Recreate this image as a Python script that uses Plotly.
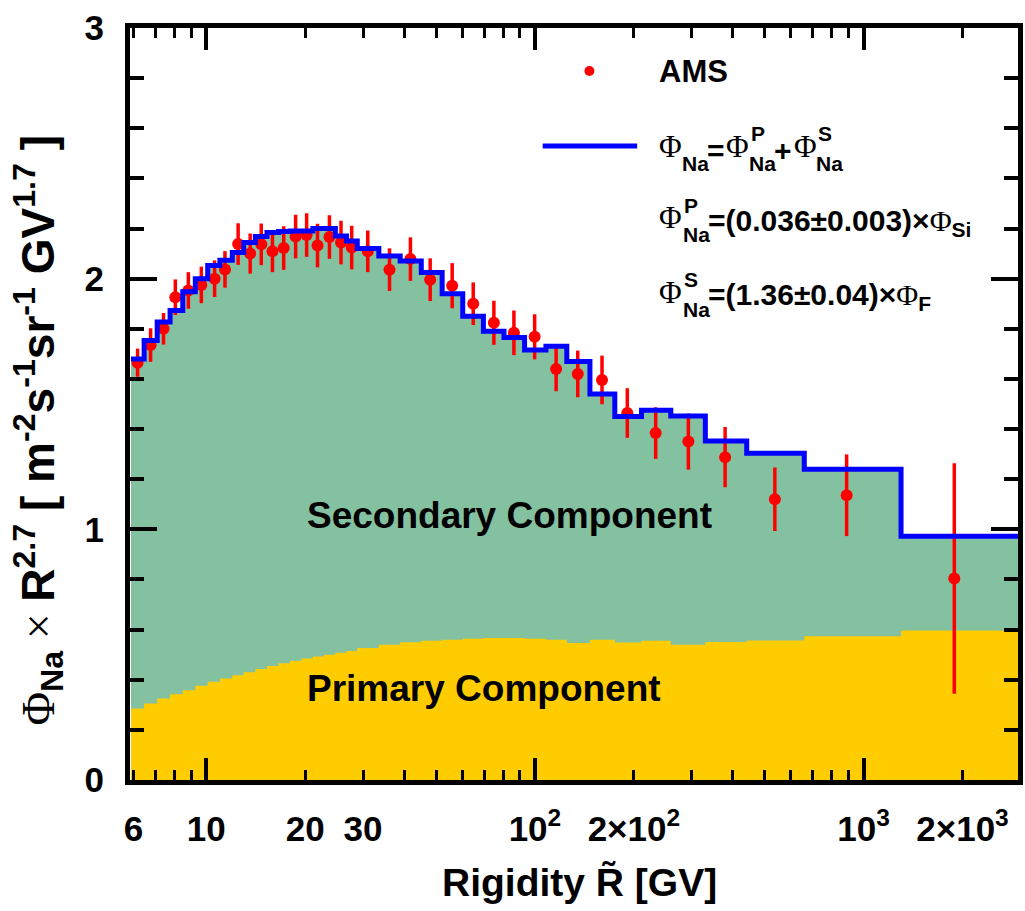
import math
import plotly.graph_objects as go

# Rigidity bin edges [GV]
bin_edges = [5.90, 6.47, 7.09, 7.76, 8.48, 9.26, 10.1, 11.0, 12.0, 13.0, 14.1,
             15.3, 16.6, 18.0, 19.5, 21.1, 22.8, 24.7, 26.7, 28.8, 33.5, 38.9,
             45.1, 52.2, 60.3, 69.7, 80.5, 93.0, 108, 125, 147, 175, 211, 259,
             330, 441, 660, 1300, 3300]

# Model: total flux (primary + secondary) per bin, x R^2.7
total_flux = [1.68, 1.753, 1.827, 1.873, 1.948, 2.00, 2.053, 2.073, 2.104,
              2.144, 2.168, 2.184, 2.188, 2.19, 2.19, 2.20, 2.20, 2.17, 2.15,
              2.12, 2.09, 2.07, 2.025, 1.94, 1.85, 1.79, 1.765, 1.715, 1.73,
              1.67, 1.54, 1.45, 1.475, 1.452, 1.352, 1.304, 1.24, 0.972]

# Model: primary component per bin
primary_flux = [0.285, 0.305, 0.325, 0.342, 0.358, 0.376, 0.392, 0.405, 0.418,
                0.43, 0.443, 0.455, 0.466, 0.476, 0.485, 0.493, 0.50, 0.508,
                0.515, 0.527, 0.54, 0.55, 0.556, 0.56, 0.563, 0.566, 0.566,
                0.563, 0.56, 0.547, 0.56, 0.549, 0.556, 0.54, 0.551, 0.557,
                0.573, 0.596]

# AMS sodium measurement
ams_rigidity = [6.18, 6.77, 7.41, 8.05, 8.82, 9.66, 10.6, 11.4, 12.5, 13.6,
                14.7, 15.9, 17.2, 18.7, 20.2, 21.8, 23.7, 25.7, 27.7, 31.0,
                36.1, 41.8, 48.0, 56.0, 64.9, 75.0, 86.3, 99.8, 116, 135, 160,
                191, 233, 293, 379, 537, 888, 1888]
ams_flux = [1.665, 1.735, 1.80, 1.926, 1.953, 1.975, 2.0, 2.037, 2.138, 2.10,
            2.137, 2.109, 2.122, 2.168, 2.174, 2.132, 2.166, 2.144, 2.124,
            2.109, 2.036, 2.078, 1.996, 1.972, 1.90, 1.824, 1.784, 1.768, 1.64,
            1.62, 1.596, 1.464, 1.384, 1.35, 1.288, 1.12, 1.136, 0.804]
ams_err = [0.056, 0.067, 0.063, 0.071, 0.073, 0.073, 0.073, 0.073, 0.083,
           0.08, 0.083, 0.083, 0.087, 0.087, 0.087, 0.087, 0.087, 0.087,
           0.087, 0.083, 0.085, 0.087, 0.085, 0.09, 0.085, 0.088, 0.089, 0.09,
           0.089, 0.093, 0.097, 0.099, 0.103, 0.112, 0.12, 0.127, 0.163, 0.46]

# Axis ticks
x_label_vals = [6, 10, 20, 30, 100, 200, 1000, 2000]
x_label_text = ["6", "10", "20", "30", "10<sup>2</sup>", "2\u00d710<sup>2</sup>",
                "10<sup>3</sup>", "2\u00d710<sup>3</sup>"]
x_decade_vals = [10, 100, 1000]
x_minor_vals = [7, 8, 9, 40, 50, 60, 70, 80, 90, 300, 400, 500, 600, 700, 800, 900]
y_major_vals = [0, 1, 2, 3]

GREEN = "rgb(132,193,161)"
YELLOW = "rgb(255,204,0)"
BLUE = "rgb(0,0,255)"
RED = "rgb(255,0,0)"
SANS = "Liberation Sans"
SERIF = "Liberation Serif"

W, H = 1025, 911
ML, MR, MT, MB = 130, 2, 28, 131
PW, PH = W - ML - MR, H - MT - MB
X_RANGE = [math.log10(5.86), math.log10(2950)]


def px(x):
    return (x - ML) / PW


def py(y):
    return (H - MB - y) / PH


def step(levels):
    return list(bin_edges), list(levels) + [levels[-1]]


fig = go.Figure()

xs, ys = step(total_flux)
fig.add_trace(go.Scatter(x=xs, y=ys, mode="lines", line=dict(width=0, shape="hv"),
                         fill="tozeroy", fillcolor=GREEN, hoverinfo="skip",
                         showlegend=False))
xs, ys = step(primary_flux)
fig.add_trace(go.Scatter(x=xs, y=ys, mode="lines", line=dict(width=0, shape="hv"),
                         fill="tozeroy", fillcolor=YELLOW, hoverinfo="skip",
                         showlegend=False))
xs, ys = step(total_flux)
fig.add_trace(go.Scatter(x=xs, y=ys, mode="lines",
                         line=dict(width=5, color=BLUE, shape="hv"),
                         xaxis="x2", showlegend=False))
fig.add_trace(go.Scatter(x=ams_rigidity, y=ams_flux, mode="markers",
                         marker=dict(size=12, color=RED),
                         error_y=dict(type="data", array=ams_err, color=RED,
                                      thickness=3.5, width=0),
                         showlegend=False))

tickfont = dict(family=SANS, size=35, color="black", weight="bold")
fig.update_layout(
    width=W, height=H,
    margin=dict(l=ML, r=MR, t=MT, b=MB),
    paper_bgcolor="white", plot_bgcolor="white",
    showlegend=False,
    xaxis=dict(type="log", range=X_RANGE, tickvals=x_label_vals,
               ticktext=x_label_text, ticks="inside", ticklen=10, tickwidth=3,
               tickcolor="black", showline=True, linewidth=5, linecolor="black",
               mirror="ticks", showgrid=False, zeroline=False,
               tickfont=tickfont, ticklabelstandoff=14,
               minor=dict(tickvals=x_minor_vals, ticks="inside", ticklen=10,
                          tickwidth=3, tickcolor="black", showgrid=False)),
    xaxis2=dict(type="log", range=X_RANGE, overlaying="x", side="bottom",
                tickvals=x_decade_vals, ticks="inside", ticklen=22, tickwidth=4,
                tickcolor="black", showticklabels=False, showline=True,
                linewidth=5, linecolor="black", mirror="ticks",
                showgrid=False, zeroline=False),
    yaxis=dict(range=[0, 3], tickvals=y_major_vals, ticks="inside", ticklen=27,
               tickwidth=4, tickcolor="black", showline=True, linewidth=5,
               linecolor="black", mirror="ticks", showgrid=False,
               zeroline=False, tickfont=tickfont, ticklabelstandoff=14,
               minor=dict(dtick=0.2, tick0=0, ticks="inside", ticklen=14,
                          tickwidth=4, tickcolor="black", showgrid=False)),
)


def label(text, x, y, size, xanchor="left", yanchor="middle", family=SANS,
          weight="bold", angle=0):
    fig.add_annotation(text=text, x=px(x), y=py(y), xref="paper", yref="paper",
                       xanchor=xanchor, yanchor=yanchor, showarrow=False,
                       textangle=angle,
                       font=dict(family=family, size=size, color="black",
                                 weight=weight))


def phi():
    return f"<span style='font-family:{SERIF};font-weight:normal'>\u03a6</span>"


# Axis titles
label("Rigidity R\u0303 [GV]", 582, 882, 39, xanchor="center")
label(phi() + "<sub>Na</sub><span style='font-family:" + SERIF +
      ";font-weight:normal'> \u00d7 </span>R<sup>2.7</sup> [ m<sup>-2</sup>s<sup>-1</sup>"
      "sr<sup>-1</sup> GV<sup>1.7</sup> ]", 38, 430, 46, xanchor="center",
      angle=-90)

# Component labels
label("Secondary Component", 512, 515, 37, xanchor="center")
label("Primary Component", 486, 688, 37, xanchor="center")

# Legend
fig.add_shape(type="circle", xref="paper", yref="paper",
              x0=px(587), x1=px(597), y0=py(76), y1=py(66),
              fillcolor=RED, line=dict(width=0))
fig.add_shape(type="line", xref="paper", yref="paper",
              x0=px(545), x1=px(640), y0=py(146), y1=py(146),
              line=dict(color=BLUE, width=5))
label("AMS", 660, 72, 31)

# Phi_Na = Phi^P_Na + Phi^S_Na
label(phi(), 660, 146, 31, weight="normal", family=SERIF)
label("Na", 683, 163, 21)
label("=", 708, 150, 30)
label(phi(), 727, 146, 31, weight="normal", family=SERIF)
label("P", 752, 133, 21)
label("Na", 750, 163, 21)
label("+", 776, 150, 30)
label(phi(), 796, 146, 31, weight="normal", family=SERIF)
label("S", 820, 133, 21)
label("Na", 818, 163, 21)

# Phi^P_Na = (0.036 +- 0.003) x Phi_Si
label(phi(), 660, 218, 31, weight="normal", family=SERIF)
label("P", 685, 205, 21)
label("Na", 684, 235, 21)
label("=(0.036\u00b10.003)\u00d7" + phi() + "<sub>Si</sub>", 709, 222, 30)

# Phi^S_Na = (1.36 +- 0.04) x Phi_F
label(phi(), 660, 292, 31, weight="normal", family=SERIF)
label("S", 685, 279, 21)
label("Na", 684, 309, 21)
label("=(1.36\u00b10.04)\u00d7" + phi() + "<sub>F</sub>", 709, 296, 30)

fig.write_html("out.html")
